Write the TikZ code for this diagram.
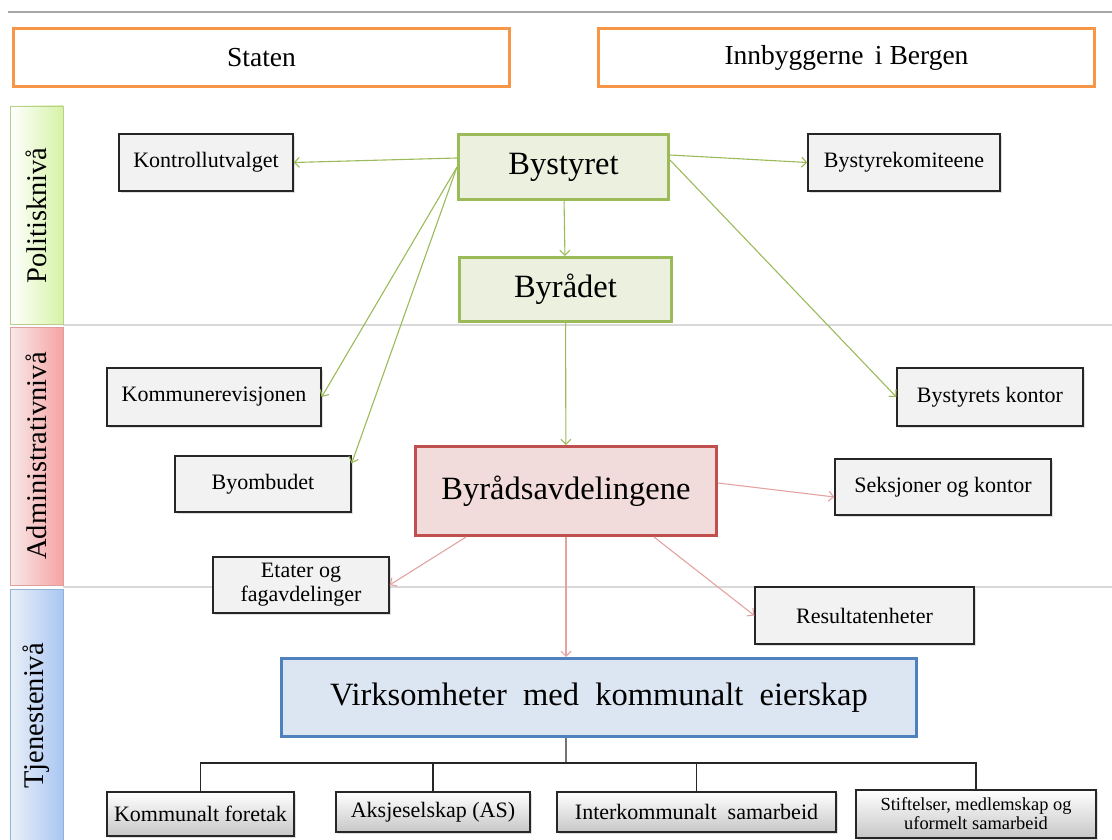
\documentclass[tikz,border=0pt]{standalone}
\usepackage{fontspec}
\setmainfont{Liberation Serif}
\newfontfamily\widefont[WordSpace=2]{Liberation Serif}
\usetikzlibrary{arrows.meta,shadows}
\definecolor{orangeline}{HTML}{F79646}
\definecolor{greenline}{HTML}{9BBB59}
\definecolor{greenfill}{HTML}{EBF1DE}
\definecolor{redline}{HTML}{C0504D}
\definecolor{redfill}{HTML}{F2DCDB}
\definecolor{redarrow}{HTML}{E2A3A2}
\definecolor{blueline}{HTML}{4F81BD}
\definecolor{bluefill}{HTML}{DCE6F2}
\definecolor{boxfill}{HTML}{F2F2F2}
\definecolor{polbar}{HTML}{D6F3A6}
\definecolor{adminbar}{HTML}{F6A3A3}
\definecolor{tjenbar}{HTML}{A9C6F3}
\begin{document}
\begin{tikzpicture}[x=1pt,y=-1pt,>={Straight Barb[length=5pt,width=10pt]}]
  \tikzstyle{topbox}=[draw=orangeline,line width=2.5pt,minimum width=496pt,minimum height=58pt,font=\fontsize{27.5}{32}\selectfont]
  \tikzstyle{unit}=[draw=black!85,line width=1.3pt,fill=boxfill,inner sep=0pt,font=\fontsize{22}{24}\selectfont,
    drop shadow={opacity=0.25,shadow xshift=1.5pt,shadow yshift=-2pt}]
  \tikzstyle{company}=[unit,fill=none,top color=white,bottom color=black!22]
  \tikzstyle{green}=[draw=greenline,fill=greenfill,line width=3pt,font=\fontsize{32.5}{36}\selectfont]
  \tikzstyle{level}=[rotate=90,font=\fontsize{28.5}{30}\selectfont]
  \tikzstyle{gedge}=[->,draw=greenline,line width=1.1pt]
  \tikzstyle{redge}=[->,draw=redarrow,line width=1.1pt]
  \useasboundingbox (0,0) rectangle (1112,840);
  % frame lines
  \draw[black!35,line width=1.3pt] (8,12) -- (1112,12);
  \draw[black!15,line width=1.5pt] (63,325) -- (1112,325);
  \draw[black!15,line width=1.5pt] (63,587) -- (1112,587);
  % levels
  \shade[left color=white,right color=polbar,draw=greenline!70] (10,106) rectangle (63,324);
  \shade[left color=redfill!60,right color=adminbar,draw=redline!55] (10,327) rectangle (63,585);
  \shade[left color=bluefill!60,right color=tjenbar,draw=blueline!60] (10,589) rectangle (63,842);
  \node[level] (pol) at (36.5,215.5) {Politisknivå};
  \node[level] (adm) at (36.5,456) {Administrativnivå};
  \node[level] (tjen) at (36.5,716) {Tjenestenivå};
  % top
  \node[topbox] (staten) at (261.5,57.5) {Staten};
  \node[topbox] (innbyggere) at (846.5,57.5) {Innbyggerne\, i Bergen};
  % political level
  \node[green,minimum width=210pt,minimum height=65pt] (bystyret) at (563.5,167) {Bystyret};
  \node[green,minimum width=212pt,minimum height=64pt] (byraadet) at (565.5,289.5) {Byrådet};
  \node[unit,minimum width=174pt,minimum height=57pt] (kontroll) at (206,162.5) {Kontrollutvalget};
  \node[unit,minimum width=192pt,minimum height=57pt] (komite) at (904,162.5) {Bystyrekomiteene};
  % administrative level
  \node[unit,minimum width=214pt,minimum height=58pt] (kommrev) at (214,397) {Kommunerevisjonen};
  \node[unit,minimum width=176pt,minimum height=56pt] (byombud) at (263,484) {Byombudet};
  \node[unit,minimum width=186pt,minimum height=58pt] (kontor) at (990,397) {Bystyrets kontor};
  \node[draw=redline,fill=redfill,line width=3pt,minimum width=301pt,minimum height=89pt,font=\fontsize{32.5}{36}\selectfont] (avd) at (566,491) {Byrådsavdelingene};
  \node[unit,minimum width=216pt,minimum height=56pt] (seksjon) at (943,487) {Seksjoner og kontor};
  \node[unit,minimum width=176pt,minimum height=56pt,align=center] (etater) at (301,585) {Etater og\\fagavdelinger};
  % service level
  \node[unit,minimum width=219pt,minimum height=57pt] (result) at (864.5,615.5) {Resultatenheter};
  \node[draw=blueline,fill=bluefill,line width=3pt,minimum width=635pt,minimum height=78pt,font=\widefont\fontsize{32.5}{36}\selectfont] (virk) at (599,697.5) {Virksomheter med kommunalt eierskap};
  \node[company,minimum width=187pt,minimum height=44pt] (foretak) at (200.5,814) {Kommunalt foretak};
  \node[company,minimum width=194pt,minimum height=40pt] (aksje) at (433,812) {Aksjeselskap (AS)};
  \node[company,minimum width=279pt,minimum height=40pt,font=\widefont\fontsize{22}{24}\selectfont] (inter) at (696.5,812) {Interkommunalt samarbeid};
  \node[company,minimum width=240pt,minimum height=48pt,align=center,font=\fontsize{18.4}{19}\selectfont] (stift) at (976,814) {Stiftelser, medlemskap og\\uformelt samarbeid};
  % connectors
  \path[gedge] (bystyret) -- (byraadet);
  \path[gedge] (byraadet) -- (avd);
  \path[gedge] ([yshift=9pt]bystyret.west) -- (kontroll.east);
  \path[gedge] ([yshift=12pt]bystyret.east) -- (komite.west);
  \path[gedge] ([yshift=7pt]bystyret.east) -- (kontor.west);
  \path[gedge] (bystyret.west) -- (kommrev.east);
  \path[gedge] (bystyret.west) -- ([yshift=-8pt]byombud.north east);
  \path[redge] ([yshift=8pt]avd.east) -- ([yshift=-10pt]seksjon.west);
  \path[redge] ([xshift=52pt]avd.south west) -- (etater.east);
  \path[redge] ([xshift=-64pt]avd.south east) -- (result.west);
  \path[redge] (avd.south) -- (avd.south |- virk.north);
  % ownership tree
  \coordinate (stem) at (566,763);
  \draw[black!55,line width=1.3pt] (virk.south -| stem) -- (stem);
  \draw[black!85,line width=1.1pt] (stem) -| (foretak.north) (stem) -| (aksje.north) (stem) -| (inter.north) (stem) -| (stift.north);
\end{tikzpicture}
\end{document}
